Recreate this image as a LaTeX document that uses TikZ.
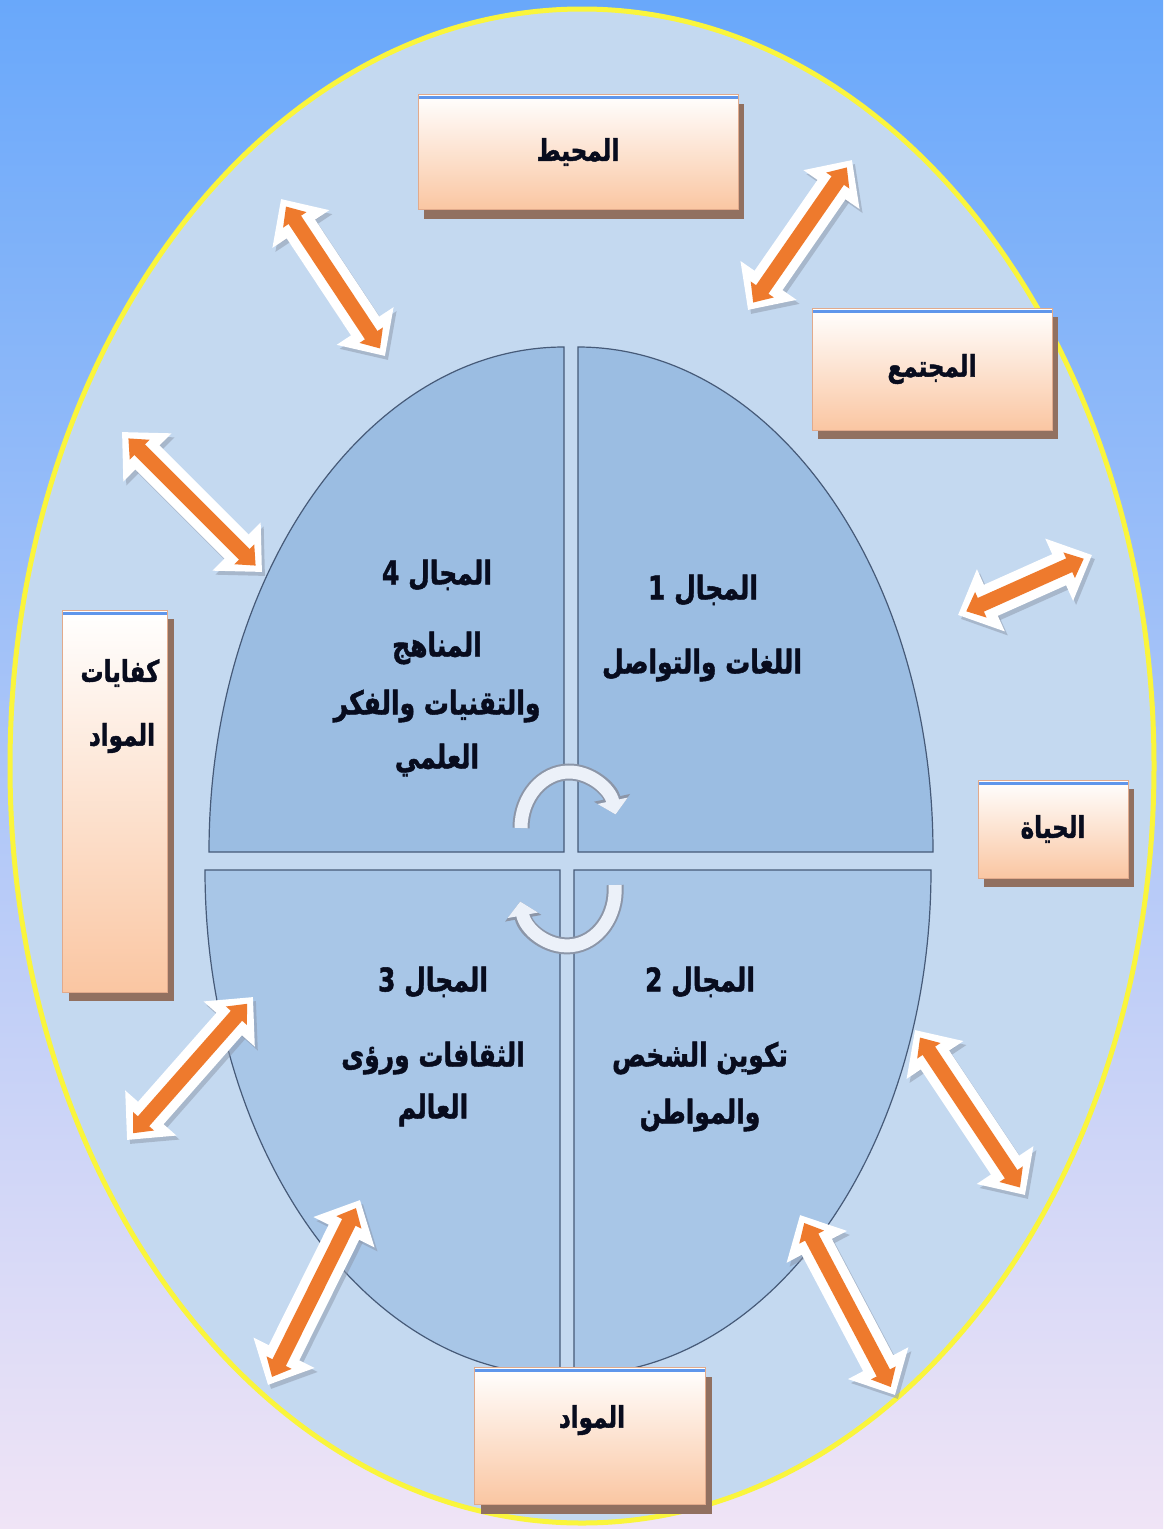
\documentclass[tikz,border=0pt]{standalone}
\usepackage{fontspec}
\newfontfamily\arabicfont[Script=Arabic,BoldFeatures={FakeBold=1.6}]{DejaVu Sans}
\TeXXeTstate=1
\usetikzlibrary{arrows.meta,shadows}
\definecolor{bgtop}{RGB}{105,168,250}
\definecolor{bgmid}{RGB}{178,205,243}
\definecolor{bgbot}{RGB}{240,228,246}
\definecolor{ellfill}{RGB}{196,217,240}
\definecolor{ringcol}{RGB}{250,245,60}
\definecolor{quadtop}{RGB}{155,189,226}
\definecolor{quadbot}{RGB}{168,198,231}
\definecolor{quadline}{RGB}{70,90,120}
\definecolor{peach}{RGB}{250,198,162}
\definecolor{boxline}{RGB}{225,170,140}
\definecolor{boxshadow}{RGB}{145,112,96}
\definecolor{boxblue}{RGB}{95,150,235}
\definecolor{arrorange}{RGB}{238,122,45}
\definecolor{txtcol}{RGB}{8,12,30}
\definecolor{cwhite}{RGB}{236,241,249}
\definecolor{cgray}{RGB}{140,150,168}
\newcommand\bxfnt{\arabicfont\bfseries\fontsize{23}{27}\selectfont}
\newcommand\qdfnt{\arabicfont\bfseries\fontsize{25}{29}\selectfont}
\newcommand\tall[1]{\scalebox{1}[1.3]{#1}}
\tikzset{
  boxst/.style={draw=boxline, line width=0.8pt, top color=white, bottom color=peach,
    drop shadow={shadow xshift=6pt, shadow yshift=-9pt, fill=boxshadow, opacity=1},
    inner sep=0pt, text=txtcol, font=\bxfnt,
    path picture={\draw[boxblue,line width=3pt]
      ([yshift=-3pt]path picture bounding box.north west) --
      ([yshift=-3pt]path picture bounding box.north east);}},
  btext/.style={inner sep=0pt, text=txtcol, font=\bxfnt},
  qtext/.style={inner sep=0pt, text=txtcol, font=\qdfnt},
  quad/.style={draw=quadline, line width=1.2pt},
  arrshadow/.style={line width=34pt, draw=cgray, opacity=0.5,
    {Triangle[length=36pt,width=66pt]}-{Triangle[length=36pt,width=66pt]},
    transform canvas={shift={(3pt,-4pt)}}},
  arrwhite/.style={line width=34pt, draw=white,
    {Triangle[length=36pt,width=66pt]}-{Triangle[length=36pt,width=66pt]}},
  arrcore/.style={line width=15pt, draw=arrorange, shorten <=9pt, shorten >=9pt,
    {Triangle[length=16pt,width=27pt]}-{Triangle[length=16pt,width=27pt]}},
  carcout/.style={line width=17pt, draw=cgray, -{Triangle[length=17pt,width=36pt]}},
  carcin/.style={line width=13pt, draw=cwhite, -{Triangle[length=14pt,width=30pt]}},
}
\newcommand\dblarr[2]{%
  \draw[arrshadow] (#1) -- (#2);
  \draw[arrwhite] (#1) -- (#2);
  \draw[arrcore] (#1) -- (#2);}
\begin{document}
\begin{tikzpicture}[x=1pt,y=-1pt]
\useasboundingbox (0,0) rectangle (1163,1529);
% background
\fill[top color=bgtop, middle color=bgmid, bottom color=bgbot] (0,0) rectangle (1163,1529);
% outer ellipse
\draw[ringcol, line width=5pt, fill=ellfill] (582,766) ellipse[x radius=572pt, y radius=757pt];
% quadrants
\draw[quad, fill=quadtop] (564,852) -- (564,347) arc[start angle=90, end angle=180, x radius=355pt, y radius=505pt] -- cycle;
\draw[quad, fill=quadtop] (578,852) -- (933,852) arc[start angle=0, end angle=90, x radius=355pt, y radius=505pt] -- cycle;
\draw[quad, fill=quadbot] (560,870) -- (205,870) arc[start angle=180, end angle=270, x radius=355pt, y radius=505pt] -- cycle;
\draw[quad, fill=quadbot] (574,870) -- (574,1375) arc[start angle=270, end angle=360, x radius=357pt, y radius=505pt] -- cycle;
% centre circular arrows
\coordinate (tarc) at (521,828);
\coordinate (barc) at (615,885);
\draw[carcout] (tarc) arc[start angle=180, end angle=14, x radius=48pt, y radius=56pt];
\draw[carcin] (tarc) arc[start angle=180, end angle=14, x radius=48pt, y radius=56pt];
\draw[carcout] (barc) arc[start angle=5, end angle=-168, x radius=48pt, y radius=56pt];
\draw[carcin] (barc) arc[start angle=5, end angle=-168, x radius=48pt, y radius=56pt];
% boxes
\node[boxst, minimum width=320pt, minimum height=115pt] (muhit) at (578,152) {\tall{\beginR المحيط\endR}};
\node[boxst, minimum width=240pt, minimum height=122pt] (mujtama) at (932,369) {\tall{\beginR المجتمع\endR}};
\node[boxst, minimum width=150pt, minimum height=98pt] (hayat) at (1053,829) {\tall{\beginR الحياة\endR}};
\node[boxst, minimum width=231pt, minimum height=137pt] (mawad) at (590,1436) {};
\node[btext] (mawadt) at (592,1420) {\tall{\beginR المواد\endR}};
\node[boxst, minimum width=105pt, minimum height=382pt] (kifayat) at (115,801) {};
\node[btext] (kift1) at (120,673) {\tall{\beginR كفايات\endR}};
\node[btext] (kift2) at (122,738) {\tall{\beginR المواد\endR}};
% double arrows
\coordinate (a1s) at (281,199); \coordinate (a1e) at (385,356);
\coordinate (a2s) at (748,310); \coordinate (a2e) at (852,160);
\coordinate (a3s) at (958,615); \coordinate (a3e) at (1092,555);
\coordinate (a4s) at (122,432); \coordinate (a4e) at (262,572);
\coordinate (a5s) at (127,1140); \coordinate (a5e) at (253,997);
\coordinate (a6s) at (268,1385); \coordinate (a6e) at (360,1200);
\coordinate (a7s) at (800,1215); \coordinate (a7e) at (895,1395);
\coordinate (a8s) at (915,1030); \coordinate (a8e) at (1025,1195);
\dblarr{a1s}{a1e}
\dblarr{a2s}{a2e}
\dblarr{a3s}{a3e}
\dblarr{a4s}{a4e}
\dblarr{a5s}{a5e}
\dblarr{a6s}{a6e}
\dblarr{a7s}{a7e}
\dblarr{a8s}{a8e}
% quadrant texts
\node[qtext] (q1t) at (703,590) {\tall{\beginR المجال 1\endR}};
\node[qtext] (q1a) at (702,665) {\tall{\beginR اللغات والتواصل\endR}};
\node[qtext] (q2t) at (700,982) {\tall{\beginR المجال 2\endR}};
\node[qtext] (q2a) at (700,1058) {\tall{\beginR تكوين الشخص\endR}};
\node[qtext] (q2b) at (700,1115) {\tall{\beginR والمواطن\endR}};
\node[qtext] (q3t) at (433,982) {\tall{\beginR المجال 3\endR}};
\node[qtext] (q3a) at (433,1058) {\tall{\beginR الثقافات ورؤى\endR}};
\node[qtext] (q3b) at (433,1110) {\tall{\beginR العالم\endR}};
\node[qtext] (q4t) at (437,575) {\tall{\beginR المجال 4\endR}};
\node[qtext] (q4a) at (437,648) {\tall{\beginR المناهج\endR}};
\node[qtext] (q4b) at (437,706) {\tall{\beginR والتقنيات والفكر\endR}};
\node[qtext] (q4c) at (437,760) {\tall{\beginR العلمي\endR}};
\end{tikzpicture}
\end{document}
